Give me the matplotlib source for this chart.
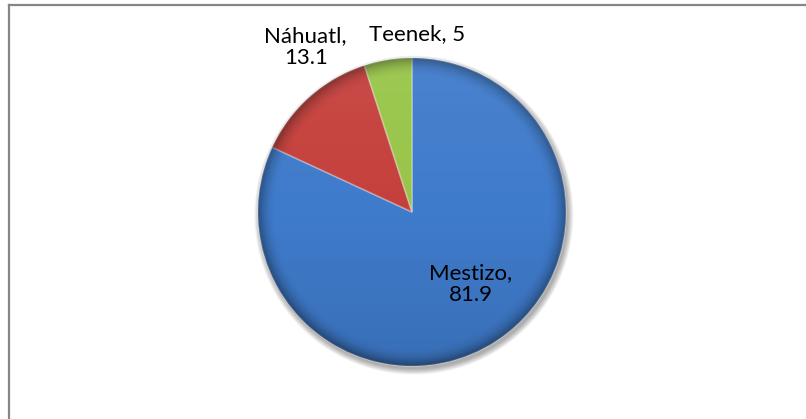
import numpy as np
import matplotlib.pyplot as plt
from matplotlib.patches import Circle

# Datos
grupos = ['Mestizo', 'Náhuatl', 'Teenek']
porcentajes = [81.9, 13.1, 5]
colores = ['#3f7bcb', '#c5403c', '#98c548']

# posiciones de las etiquetas (en radios, respecto al centro)
pos_etiquetas = [(0.38, -0.47), (-0.69, 1.07), (0.03, 1.155)]
saltos = [True, True, False]

W, H = 806, 419
cx, cy, R = 412, 212, 154

fig = plt.figure(figsize=(W / 100, H / 100), dpi=100)
ax = fig.add_axes([0, 0, 1, 1])

# sombra
for i in range(10):
    ax.add_patch(Circle((0.012, -0.02), 1.0 + 0.004 * i, color='black',
                        alpha=0.035, lw=0, zorder=1))

wedges, _ = ax.pie(porcentajes, colors=colores, startangle=90, counterclock=False,
                   radius=1.0, center=(0, 0), frame=True,
                   wedgeprops=dict(edgecolor=(1, 1, 1, 0.3), linewidth=1.2, zorder=2))

# sombreado tipo Excel
n = 400
xs = np.linspace(-1, 1, n)
X, Y = np.meshgrid(xs, xs[::-1])
r = np.sqrt(X ** 2 + Y ** 2)
oscuro = np.clip((r - 0.88) / 0.12, 0, 1) ** 2 * 0.35 + np.clip(-Y, 0, 1) * 0.10
img_o = np.zeros((n, n, 4))
img_o[..., 3] = oscuro
claro = np.clip(Y, 0, 1) * 0.06
img_c = np.ones((n, n, 4))
img_c[..., 3] = claro
clip = Circle((0, 0), 1.0, transform=ax.transData)
for img in (img_o, img_c):
    im = ax.imshow(img, extent=(-1, 1, -1, 1), zorder=3, interpolation='bilinear')
    im.set_clip_path(clip)

ax.set_xlim(-cx / R, (W - cx) / R)
ax.set_ylim(-(H - cy) / R, cy / R)
ax.set_aspect('auto')
ax.axis('off')

# etiquetas
for g, p, (lx, ly), s in zip(grupos, porcentajes, pos_etiquetas, saltos):
    txt = f'{g},\n{p:g}' if s else f'{g}, {p:g}'
    ax.text(lx, ly, txt, ha='center', va='center', fontsize=16,
            family='Lato', linespacing=1.12, zorder=5)

# marco
fig.add_artist(plt.Line2D([8.5 / W, 8.5 / W], [0, 1 - 5 / H], transform=fig.transFigure,
                          color='#868686', lw=1.6))
fig.add_artist(plt.Line2D([8.5 / W, 1], [1 - 5 / H, 1 - 5 / H], transform=fig.transFigure,
                          color='#868686', lw=1.6))

fig.savefig('out.png', dpi=100)
